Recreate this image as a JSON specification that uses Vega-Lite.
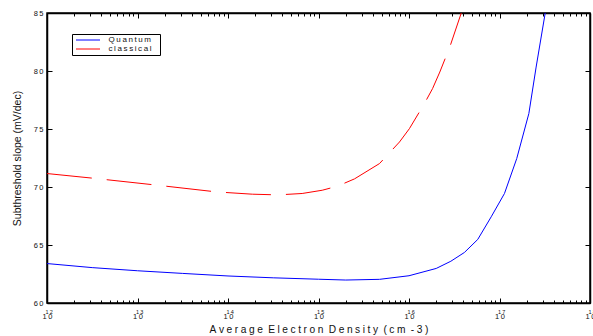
{
  "$schema": "https://vega.github.io/schema/vega-lite/v6.json",
  "width": 543,
  "height": 290,
  "autosize": {"type": "none"},
  "padding": {"left": 47, "top": 13, "right": 3, "bottom": 33},
  "config": {
    "view": {"stroke": "#000", "strokeWidth": 1.5},
    "font": "Liberation Sans",
    "axis": {"grid": false, "domainColor": "#000", "domainWidth": 1.5, "tickColor": "#000", "tickWidth": 1, "labelColor": "#111", "titleColor": "#111", "labelFont": "Liberation Sans", "titleFont": "Liberation Sans", "titleFontWeight": "normal"}
  },
  "datasets": {
    "curves": [
      {"n": 1e12, "s": 63.4, "series": "Quantum"},
      {"n": 3.16e12, "s": 63.05, "series": "Quantum"},
      {"n": 1e13, "s": 62.78, "series": "Quantum"},
      {"n": 3.16e13, "s": 62.55, "series": "Quantum"},
      {"n": 1e14, "s": 62.33, "series": "Quantum"},
      {"n": 3.16e14, "s": 62.17, "series": "Quantum"},
      {"n": 1e15, "s": 62.05, "series": "Quantum"},
      {"n": 2e15, "s": 61.98, "series": "Quantum"},
      {"n": 4.72e15, "s": 62.04, "series": "Quantum"},
      {"n": 1e16, "s": 62.35, "series": "Quantum"},
      {"n": 2e16, "s": 62.98, "series": "Quantum"},
      {"n": 2.9e16, "s": 63.6, "series": "Quantum"},
      {"n": 4.1e16, "s": 64.36, "series": "Quantum"},
      {"n": 5.75e16, "s": 65.48, "series": "Quantum"},
      {"n": 8.1e16, "s": 67.43, "series": "Quantum"},
      {"n": 1.135e17, "s": 69.44, "series": "Quantum"},
      {"n": 1.55e17, "s": 72.45, "series": "Quantum"},
      {"n": 2.11e17, "s": 76.33, "series": "Quantum"},
      {"n": 2.54e17, "s": 80.34, "series": "Quantum"},
      {"n": 3.2e17, "s": 85.0, "series": "Quantum"},
      {"n": 1e12, "s": 71.16, "series": "classical"},
      {"n": 3.2e12, "s": 70.76, "series": "classical"},
      {"n": 1.55e13, "s": 70.18, "series": "classical"},
      {"n": 7.4e13, "s": 69.58, "series": "classical"},
      {"n": 1.86e14, "s": 69.38, "series": "classical"},
      {"n": 3.55e14, "s": 69.32, "series": "classical"},
      {"n": 6.6e14, "s": 69.44, "series": "classical"},
      {"n": 1.1e15, "s": 69.72, "series": "classical"},
      {"n": 1.62e15, "s": 70.07, "series": "classical"},
      {"n": 2.5e15, "s": 70.7, "series": "classical"},
      {"n": 4.72e15, "s": 72.02, "series": "classical"},
      {"n": 7.85e15, "s": 73.88, "series": "classical"},
      {"n": 1.01e16, "s": 75.03, "series": "classical"},
      {"n": 1.48e16, "s": 77.19, "series": "classical"},
      {"n": 1.82e16, "s": 78.48, "series": "classical"},
      {"n": 2.19e16, "s": 79.91, "series": "classical"},
      {"n": 2.82e16, "s": 82.06, "series": "classical"},
      {"n": 3.78e16, "s": 85.0, "series": "classical"}
    ],
    "exps": [
      {"n": 1e12, "e": "1\u20092"},
      {"n": 1e13, "e": "1\u20093"},
      {"n": 1e14, "e": "1\u20094"},
      {"n": 1e15, "e": "1\u20095"},
      {"n": 1e16, "e": "1\u20096"},
      {"n": 1e17, "e": "1\u20097"},
      {"n": 1e18, "e": "1\u20098"}
    ]
  },
  "resolve": {"axis": {"x": "independent", "y": "independent"}},
  "layer": [
    {
      "data": {"name": "curves"},
      "transform": [{"filter": "datum.series === 'Quantum'"}],
      "mark": {"type": "line", "strokeWidth": 1, "clip": true},
      "encoding": {
        "x": {"field": "n", "type": "quantitative",
          "scale": {"type": "log", "domain": [1e12, 1e18], "nice": false},
          "axis": {"orient": "bottom",
            "values": [1e12,2e12,3e12,4e12,5e12,6e12,7e12,8e12,9e12,1e13,2e13,3e13,4e13,5e13,6e13,7e13,8e13,9e13,1e14,2e14,3e14,4e14,5e14,6e14,7e14,8e14,9e14,1e15,2e15,3e15,4e15,5e15,6e15,7e15,8e15,9e15,1e16,2e16,3e16,4e16,5e16,6e16,7e16,8e16,9e16,1e17,2e17,3e17,4e17,5e17,6e17,7e17,8e17,9e17,1e18],
            "tickSize": {"condition": {"test": "abs(log(datum.value)/LN10 - round(log(datum.value)/LN10)) < 0.01", "value": -5}, "value": -3},
            "labelExpr": "abs(log(datum.value)/LN10 - round(log(datum.value)/LN10)) < 0.01 ? '1\u20090' : ''",
            "labelFontSize": 7.5, "labelDx": -7, "labelPadding": 14.5, "labelBaseline": "top", "labelFlush": false, "labelOverlap": false,
            "title": "A\u2005v\u2005e\u2005r\u2005a\u2005g\u2005e\u2005 E\u2005l\u2005e\u2005c\u2005t\u2005r\u2005o\u2005n\u2005 D\u2005e\u2005n\u2005s\u2005i\u2005t\u2005y\u2005 (\u2005c\u2005m\u2005 -\u20053\u2005)",
            "titleFontSize": 10.2, "titlePadding": 2}},
        "y": {"field": "s", "type": "quantitative",
          "scale": {"domain": [60, 85], "nice": false, "zero": false},
          "axis": {"orient": "left", "values": [60, 65, 70, 75, 80, 85], "tickSize": -5,
            "labelExpr": "substring(datum.label,0,1) + '\u2009' + substring(datum.label,1,2)",
            "labelFontSize": 7.5, "labelPadding": 9,
            "title": "Subthreshold slope (mV/dec)", "titleFontSize": 10.5, "titlePadding": 11}},
        "color": {"field": "series", "type": "nominal",
          "scale": {"domain": ["Quantum", "classical"], "range": ["#0000ff", "#ff0000"]},
          "legend": {"orient": "none", "legendX": 25, "legendY": 21, "title": null,
            "strokeColor": "#000", "padding": 1.5, "symbolType": "M-3,0H3", "symbolSize": 64, "symbolOffset": 10,
            "symbolStrokeWidth": 1, "labelFontSize": 8, "labelColor": "#111", "rowPadding": 0, "labelOffset": 16,
            "labelExpr": "join(split(datum.label, ''), '\u2009') + '\u2800'"}}
      }
    },
    {
      "data": {"name": "curves"},
      "transform": [{"filter": "datum.series === 'classical'"}],
      "mark": {"type": "line", "strokeWidth": 1, "strokeDash": [45, 15], "clip": true},
      "encoding": {
        "x": {"field": "n", "type": "quantitative",
          "axis": {"orient": "top",
            "values": [1e12,2e12,3e12,4e12,5e12,6e12,7e12,8e12,9e12,1e13,2e13,3e13,4e13,5e13,6e13,7e13,8e13,9e13,1e14,2e14,3e14,4e14,5e14,6e14,7e14,8e14,9e14,1e15,2e15,3e15,4e15,5e15,6e15,7e15,8e15,9e15,1e16,2e16,3e16,4e16,5e16,6e16,7e16,8e16,9e16,1e17,2e17,3e17,4e17,5e17,6e17,7e17,8e17,9e17,1e18],
            "tickSize": {"condition": {"test": "abs(log(datum.value)/LN10 - round(log(datum.value)/LN10)) < 0.01", "value": -5}, "value": -3},
            "labels": false, "title": null}},
        "y": {"field": "s", "type": "quantitative",
          "axis": {"orient": "right", "values": [60, 65, 70, 75, 80, 85], "tickSize": -5, "labels": false, "title": null}},
        "color": {"field": "series", "type": "nominal"}
      }
    },
    {
      "data": {"name": "exps"},
      "mark": {"type": "text", "align": "left", "baseline": "alphabetic", "fontSize": 5.5, "dx": -1.5, "dy": 10.5, "color": "#111", "font": "Liberation Sans"},
      "encoding": {
        "x": {"field": "n", "type": "quantitative", "axis": null},
        "y": {"datum": 60, "type": "quantitative", "axis": null},
        "text": {"field": "e"}
      }
    }
  ]
}
